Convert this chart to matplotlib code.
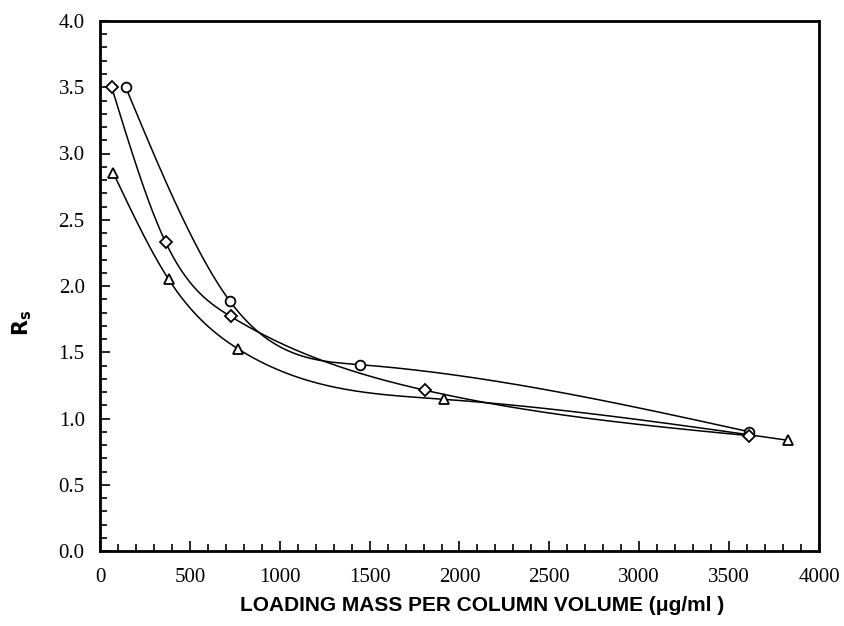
import numpy as np
import matplotlib
matplotlib.use("Agg")
import matplotlib.pyplot as plt
from matplotlib.ticker import MultipleLocator

# Loading mass per column volume (ug/ml) and resolution Rs for three runs
circle_x = [143, 723, 1449, 3613]
circle_y = [3.50, 1.885, 1.406, 0.90]

diamond_x = [65, 365, 727, 1809, 3613]
diamond_y = [3.50, 2.33, 1.77, 1.213, 0.87]

triangle_x = [75, 382, 766, 1914, 3825]
triangle_y = [2.85, 2.05, 1.527, 1.145, 0.836]

x_ticks = [0, 500, 1000, 1500, 2000, 2500, 3000, 3500, 4000]
y_ticks = [0.0, 0.5, 1.0, 1.5, 2.0, 2.5, 3.0, 3.5, 4.0]


def natural_spline(xs, ys, n=400):
    """Natural cubic spline y(x) through the given points."""
    x = np.asarray(xs, float)
    y = np.asarray(ys, float)
    k = len(x)
    h = np.diff(x)
    A = np.zeros((k, k))
    b = np.zeros(k)
    A[0, 0] = A[-1, -1] = 1.0
    for i in range(1, k - 1):
        A[i, i - 1] = h[i - 1]
        A[i, i] = 2 * (h[i - 1] + h[i])
        A[i, i + 1] = h[i]
        b[i] = 6 * ((y[i + 1] - y[i]) / h[i] - (y[i] - y[i - 1]) / h[i - 1])
    M = np.linalg.solve(A, b)
    xx = np.linspace(x[0], x[-1], n)
    idx = np.clip(np.searchsorted(x, xx) - 1, 0, k - 2)
    x0, x1 = x[idx], x[idx + 1]
    hh = x1 - x0
    t0, t1 = x1 - xx, xx - x0
    yy = (M[idx] * t0 ** 3 + M[idx + 1] * t1 ** 3) / (6 * hh) \
        + (y[idx] / hh - M[idx] * hh / 6) * t0 \
        + (y[idx + 1] / hh - M[idx + 1] * hh / 6) * t1
    return xx, yy


fig = plt.figure(figsize=(8.45, 6.26), dpi=100)
ax = fig.add_axes([100 / 845, 75 / 626, 719 / 845, 530 / 626])

series = [
    (circle_x, circle_y, "o", 7),
    (diamond_x, diamond_y, "D", 6.5),
    (triangle_x, triangle_y, "^", 6.5),
]
for xs, ys, mk, ms in series:
    cx, cy = natural_spline(xs, ys)
    ax.plot(cx, cy, color="black", lw=1.1, zorder=2)
    ax.plot(xs, ys, linestyle="none", marker=mk, markersize=ms,
            markerfacecolor="white", markeredgecolor="black", markeredgewidth=1.3, zorder=3)

ax.set_xlim(0, 4000)
ax.set_ylim(0, 4.0)
ax.set_xticks(x_ticks)
ax.set_yticks(y_ticks)
ax.set_xticklabels([str(v) for v in x_ticks])
ax.set_yticklabels([f"{v:.1f}" for v in y_ticks])
ax.xaxis.set_minor_locator(MultipleLocator(100))
ax.yaxis.set_minor_locator(MultipleLocator(0.1))

ax.tick_params(axis="both", which="both", direction="in", top=False, right=False,
               width=1.2, colors="black")
ax.tick_params(axis="both", which="major", length=7)
ax.tick_params(axis="both", which="minor", length=5)
ax.tick_params(axis="x", which="major", pad=12)
ax.tick_params(axis="y", which="major", pad=11)
for lbl in ax.get_xticklabels() + ax.get_yticklabels():
    lbl.set_fontfamily("Liberation Serif")
    lbl.set_fontsize(15)

for s in ax.spines.values():
    s.set_linewidth(2.0)

ax.set_xlabel("LOADING MASS PER COLUMN VOLUME (\u03bcg/ml )", fontsize=15,
              fontweight="bold", family=["Liberation Sans", "DejaVu Sans"])
ax.xaxis.set_label_coords(0.532, -0.103)
ax.xaxis.label.set_verticalalignment("center")

ax.set_ylabel(r"$\mathbf{R_s}$", fontsize=15)
ax.yaxis.set_label_coords(-0.108, 0.43)
ax.yaxis.label.set_verticalalignment("center")

fig.savefig("out.png", dpi=100, facecolor="white")
